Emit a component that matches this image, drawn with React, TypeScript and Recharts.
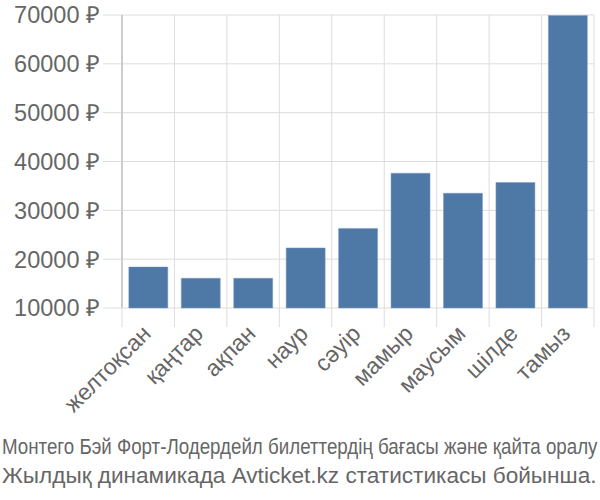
import { useLayoutEffect, useRef, useState } from 'react';
import { Bar, BarChart, CartesianGrid, XAxis, YAxis } from 'recharts';

const months = ['желтоқсан', 'қаңтар', 'ақпан', 'наур', 'сәуір', 'мамыр', 'маусым', 'шілде', 'тамыз'];
const prices = [18400, 16100, 16100, 22300, 26300, 37600, 33500, 35700, 69900];
const yTicks = [10000, 20000, 30000, 40000, 50000, 60000, 70000];
const titleLines = [
  'Монтего Бэй Форт-Лодердейл билеттердің бағасы және қайта оралу',
  'Жылдық динамикада Avticket.kz статистикасы бойынша.',
];

const data = months.map((month, i) => ({ month, price: prices[i] }));

const CHART_W = 600;
const CHART_H = 420;
const Y_W = 122;
const MARGIN = { top: 15, right: 6, left: 0, bottom: 0 };
const STEP = (CHART_W - Y_W - MARGIN.right) / months.length;
const FONT = "'Liberation Sans', Arial, sans-serif";

function MonthTick(props: any) {
  const { x, y, payload, index } = props;
  const left = x - STEP / 2;
  const ax = x + 4;
  const ay = y + 27;
  return (
    <g>
      <line x1={left} y1={y} x2={left} y2={y + 19} stroke="#dddddd" />
      {index === months.length - 1 && <line x1={x + STEP / 2} y1={y} x2={x + STEP / 2} y2={y + 19} stroke="#dddddd" />}
      <text
        x={ax}
        y={ay}
        textAnchor="end"
        transform={`rotate(-45, ${ax}, ${ay})`}
        fill="#666666"
        fontSize={23}
        fontFamily={FONT}
      >
        {payload.value}
      </text>
    </g>
  );
}

// squeeze a text line horizontally to a given width
function FitText({ x, y, width, size, children }: { x: number; y: number; width: number; size: number; children: string }) {
  const ref = useRef<SVGTextElement>(null);
  const [sx, setSx] = useState(1);
  useLayoutEffect(() => {
    if (ref.current) {
      const w = ref.current.getComputedTextLength();
      if (w > 0) setSx(width / w);
    }
  }, [width, children]);
  return (
    <text ref={ref} transform={`translate(${x}, ${y}) scale(${sx}, 1)`} fill="#666666" fontSize={size} fontFamily={FONT}>
      {children}
    </text>
  );
}

export default function App() {
  return (
    <div style={{ position: 'absolute', left: 0, top: 0, width: 600, height: 500, background: '#fff' }}>
      <BarChart width={CHART_W} height={CHART_H} data={data} margin={MARGIN} barCategoryGap="13%">
        <CartesianGrid
          stroke="#dddddd"
          verticalCoordinatesGenerator={({ offset }: any) =>
            months.map((_, i) => offset.left + i * (offset.width / months.length)).concat(offset.left + offset.width)
          }
        />
        <XAxis
          dataKey="month"
          interval={0}
          axisLine={false}
          tickLine={false}
          tickSize={0}
          tickMargin={0}
          height={CHART_H - 308 - MARGIN.bottom}
          tick={<MonthTick />}
        />
        <YAxis
          width={Y_W}
          domain={[10000, 70000]}
          ticks={yTicks}
          interval={0}
          axisLine={{ stroke: '#aaaaaa' }}
          tickLine={{ stroke: '#dddddd' }}
          tickSize={19}
          tickMargin={3}
          tickFormatter={(v) => `${v} ₽`}
          tick={{ fill: '#666666', fontSize: 23.5, fontFamily: FONT }}
        />
        <Bar dataKey="price" fill="#4e78a6" stroke="#7f9cc0" strokeWidth={0.5} isAnimationActive={false} />
      </BarChart>
      <svg width={600} height={80} style={{ position: 'absolute', left: 0, top: 420 }}>
        <FitText x={2} y={34} width={596} size={22}>
          {titleLines[0]}
        </FitText>
        <FitText x={2} y={63} width={595} size={22}>
          {titleLines[1]}
        </FitText>
      </svg>
    </div>
  );
}
